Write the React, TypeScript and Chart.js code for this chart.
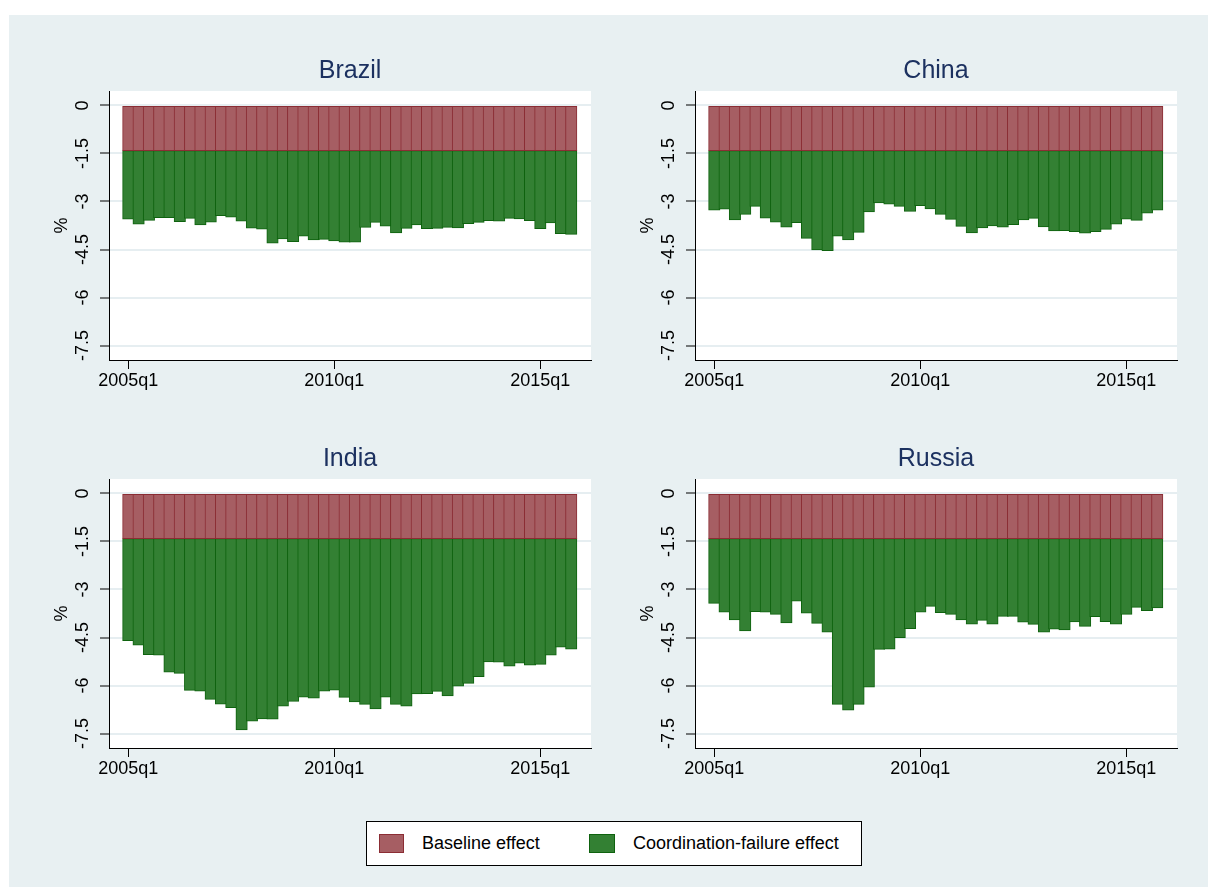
import React, { useEffect, useRef } from 'react';
import { Chart, registerables } from 'chart.js';

Chart.register(...registerables);

// ---------- data ----------
const quarters = [
  '2005q1', '2005q2', '2005q3', '2005q4', '2006q1', '2006q2', '2006q3', '2006q4',
  '2007q1', '2007q2', '2007q3', '2007q4', '2008q1', '2008q2', '2008q3', '2008q4',
  '2009q1', '2009q2', '2009q3', '2009q4', '2010q1', '2010q2', '2010q3', '2010q4',
  '2011q1', '2011q2', '2011q3', '2011q4', '2012q1', '2012q2', '2012q3', '2012q4',
  '2013q1', '2013q2', '2013q3', '2013q4', '2014q1', '2014q2', '2014q3', '2014q4',
  '2015q1', '2015q2', '2015q3', '2015q4',
];

const xTickLabels = ['2005q1', '2010q1', '2015q1'];
const yTicks = [0, -1.5, -3, -4.5, -6, -7.5];
const seriesNames = ['Baseline effect', 'Coordination-failure effect'];
const countries = ['Brazil', 'China', 'India', 'Russia'];

const baselineEffect = [
  -1.41, -1.41, -1.41, -1.41, -1.41, -1.41, -1.41, -1.41, -1.41, -1.41, -1.41,
  -1.41, -1.41, -1.41, -1.41, -1.41, -1.41, -1.41, -1.41, -1.41, -1.41, -1.41,
  -1.41, -1.41, -1.41, -1.41, -1.41, -1.41, -1.41, -1.41, -1.41, -1.41, -1.41,
  -1.41, -1.41, -1.41, -1.41, -1.41, -1.41, -1.41, -1.41, -1.41, -1.41, -1.41,
];

const brazilCoordination = [
  -2.14, -2.30, -2.18, -2.09, -2.09, -2.22, -2.12, -2.32, -2.23, -2.03, -2.08,
  -2.20, -2.42, -2.45, -2.89, -2.76, -2.84, -2.67, -2.79, -2.77, -2.82, -2.86,
  -2.86, -2.40, -2.24, -2.36, -2.57, -2.43, -2.32, -2.44, -2.43, -2.40, -2.41,
  -2.28, -2.24, -2.19, -2.20, -2.12, -2.13, -2.19, -2.44, -2.26, -2.59, -2.62,
];

const chinaCoordination = [
  -1.86, -1.83, -2.16, -1.99, -1.74, -2.11, -2.23, -2.39, -2.25, -2.74, -3.10,
  -3.12, -2.67, -2.79, -2.55, -1.91, -1.63, -1.67, -1.74, -1.90, -1.72, -1.82,
  -1.99, -2.15, -2.37, -2.57, -2.41, -2.35, -2.39, -2.31, -2.16, -2.12, -2.38,
  -2.51, -2.50, -2.53, -2.58, -2.53, -2.46, -2.30, -2.14, -2.18, -1.95, -1.86,
];

const indiaCoordination = [
  -3.19, -3.33, -3.62, -3.64, -4.17, -4.21, -4.74, -4.76, -5.02, -5.17, -5.28,
  -5.97, -5.70, -5.63, -5.64, -5.23, -5.08, -4.95, -4.98, -4.76, -4.73, -4.96,
  -5.10, -5.18, -5.32, -4.95, -5.18, -5.23, -4.85, -4.84, -4.77, -4.91, -4.61,
  -4.52, -4.31, -3.85, -3.86, -3.98, -3.89, -3.95, -3.93, -3.64, -3.39, -3.45,
];

const russiaCoordination = [
  -2.02, -2.30, -2.54, -2.88, -2.28, -2.30, -2.37, -2.63, -1.95, -2.33, -2.65,
  -2.92, -5.18, -5.36, -5.18, -4.64, -3.46, -3.45, -3.09, -2.81, -2.30, -2.12,
  -2.31, -2.37, -2.54, -2.67, -2.55, -2.67, -2.43, -2.43, -2.61, -2.68, -2.92,
  -2.83, -2.85, -2.60, -2.74, -2.44, -2.59, -2.67, -2.37, -2.15, -2.25, -2.16,
];

// ---------- styles ----------
const FONT = '"Liberation Sans", Arial, Helvetica, sans-serif';
const BG = '#e8f0f2';
const GRID = '#e6eef1';
const TITLE_COLOR = '#1c3160';
const RED = 'rgb(166,94,99)';
const RED_BORDER = 'rgb(139,45,52)';
const GREEN = 'rgb(51,128,51)';
const GREEN_BORDER = 'rgb(14,98,14)';

type PanelProps = { title: string; coord: number[]; left: number; top: number };

function Panel({ title, coord, left, top }: PanelProps) {
  const ref = useRef<HTMLCanvasElement>(null);

  useEffect(() => {
    const canvas = ref.current;
    if (!canvas) return;
    const xTicks = xTickLabels.map((l) => quarters.indexOf(l));

    const deco = {
      id: 'panelDeco',
      beforeDraw(chart: any) {
        const { ctx, chartArea: a } = chart;
        ctx.save();
        ctx.fillStyle = '#ffffff';
        ctx.fillRect(a.left, a.top, a.right - a.left, a.bottom - a.top);
        ctx.restore();
      },
      afterDraw(chart: any) {
        const ys = chart.scales.y;
        const ctx = chart.ctx;
        ctx.save();
        ctx.fillStyle = '#000';
        ctx.font = `18px ${FONT}`;
        ctx.textAlign = 'center';
        ctx.textBaseline = 'middle';
        for (const t of ys.ticks) {
          const py = ys.getPixelForValue(t.value);
          ctx.save();
          ctx.translate(ys.right - 26, py);
          ctx.rotate(-Math.PI / 2);
          ctx.fillText(String(t.value), 0, 0);
          ctx.restore();
        }
        ctx.restore();
      },
    };

    const common = {
      borderWidth: 1,
      borderSkipped: false,
      inflateAmount: 0.4,
      stack: 's',
      barPercentage: 1.097,
      categoryPercentage: 1,
    };

    const chart = new Chart(canvas, {
      type: 'bar',
      data: {
        datasets: [
          {
            ...common,
            label: seriesNames[0],
            data: baselineEffect.map((v, i) => ({ x: i, y: v })),
            backgroundColor: RED,
            borderColor: RED_BORDER,
          },
          {
            ...common,
            label: seriesNames[1],
            data: coord.map((v, i) => ({ x: i, y: v })),
            backgroundColor: GREEN,
            borderColor: GREEN_BORDER,
          },
        ],
      } as any,
      options: {
        responsive: false,
        animation: false,
        events: [],
        layout: { padding: { left: 0, right: 4, top: 0, bottom: 0 }, autoPadding: false },
        plugins: {
          legend: { display: false },
          tooltip: { enabled: false },
          title: {
            display: true,
            text: title,
            fullSize: false,
            color: TITLE_COLOR,
            font: { size: 25, family: FONT, weight: 'normal' },
            padding: { top: 41, bottom: 5 },
          },
        },
        scales: {
          x: {
            type: 'linear',
            stacked: true,
            offset: false,
            min: -1.874,
            max: 44.92,
            afterBuildTicks: (s: any) => {
              s.ticks = xTicks.map((v) => ({ value: v }));
            },
            afterFit: (s: any) => {
              s.height = 43;
            },
            ticks: {
              callback: (v: any) => quarters[v] ?? '',
              font: { size: 18, family: FONT },
              color: '#000',
              padding: 1,
              maxRotation: 0,
              minRotation: 0,
              autoSkip: false,
            },
            grid: {
              offset: false,
              drawOnChartArea: false,
              drawTicks: true,
              tickLength: 9,
              tickColor: '#000',
              tickWidth: 1,
            },
            border: { display: true, color: '#000', width: 1 },
          },
          y: {
            stacked: true,
            min: -7.95,
            max: 0.45,
            afterBuildTicks: (s: any) => {
              s.ticks = yTicks.map((v) => ({ value: v }));
            },
            afterFit: (s: any) => {
              s.width = 100;
            },
            ticks: { display: false },
            grid: {
              color: GRID,
              lineWidth: 2,
              drawTicks: true,
              tickLength: 9,
              tickColor: '#000',
              tickWidth: 1,
            },
            border: { display: true, color: '#000', width: 1 },
            title: {
              display: true,
              text: '%',
              color: '#000',
              font: { size: 18, family: FONT },
              padding: { top: 42, bottom: 0 },
            },
          },
        },
      } as any,
      plugins: [deco],
    });

    return () => chart.destroy();
  }, [title, coord]);

  return (
    <canvas
      ref={ref}
      width={586}
      height={388}
      style={{ position: 'absolute', left, top, width: 586, height: 388 }}
    />
  );
}

const legendText: React.CSSProperties = {
  position: 'absolute',
  top: 831,
  fontSize: 18,
  lineHeight: '24px',
  fontFamily: FONT,
  color: '#000',
  whiteSpace: 'nowrap',
};

export default function App() {
  const coords = [brazilCoordination, chinaCoordination, indiaCoordination, russiaCoordination];
  const pos = [
    { left: 9, top: 15 },
    { left: 595, top: 15 },
    { left: 9, top: 403 },
    { left: 595, top: 403 },
  ];
  return (
    <div
      style={{
        position: 'absolute',
        left: 0,
        top: 0,
        width: 1208,
        height: 887,
        background: '#fff',
        overflow: 'hidden',
        fontFamily: FONT,
      }}
    >
      <div style={{ position: 'absolute', left: 9, top: 15, width: 1199, height: 872, background: BG }} />
      {countries.map((c, i) => (
        <Panel key={c} title={c} coord={coords[i]} left={pos[i].left} top={pos[i].top} />
      ))}
      <div
        style={{
          position: 'absolute',
          left: 366,
          top: 821,
          width: 494,
          height: 43,
          background: '#fff',
          border: '1px solid #000',
        }}
      />
      <div
        style={{
          position: 'absolute',
          left: 379,
          top: 834,
          width: 23,
          height: 17,
          background: RED,
          border: `1px solid ${RED_BORDER}`,
        }}
      />
      <div style={{ ...legendText, left: 422 }}>{seriesNames[0]}</div>
      <div
        style={{
          position: 'absolute',
          left: 589,
          top: 834,
          width: 24,
          height: 17,
          background: GREEN,
          border: `1px solid ${GREEN_BORDER}`,
        }}
      />
      <div style={{ ...legendText, left: 633 }}>{seriesNames[1]}</div>
    </div>
  );
}
